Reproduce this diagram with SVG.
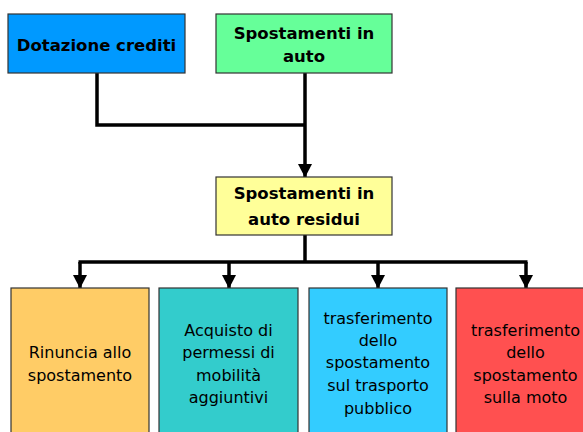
<svg xmlns="http://www.w3.org/2000/svg" width="583" height="432" viewBox="0 0 583 432">
<defs>
<marker id="ah" markerUnits="userSpaceOnUse" markerWidth="14" markerHeight="15" refX="13" refY="7.5" orient="auto" viewBox="0 0 14 15">
<path d="M0,0.5 L13.5,7.5 L0,14.5 Z" fill="#000"/>
</marker>
</defs>
<style>
.box{stroke:#333;stroke-width:1.2}
.b{font-family:"DejaVu Sans",Verdana,sans-serif;font-weight:bold;font-size:16.5px;fill:#000;text-anchor:middle}
.r{font-family:"DejaVu Sans",Verdana,sans-serif;font-size:16px;fill:#000;text-anchor:middle}
.c{fill:none;stroke:#000;stroke-width:3.5}
</style>
<rect width="583" height="432" fill="#fff"/>
<g id="connectors">
<polyline class="c" points="97,73 97,125 305,125"/>
<line class="c" x1="305" y1="73" x2="305" y2="177" marker-end="url(#ah)"/>
<line class="c" x1="305" y1="235" x2="305" y2="262"/>
<line class="c" x1="78.5" y1="262" x2="527.5" y2="262"/>
<line class="c" x1="80" y1="262" x2="80" y2="288" marker-end="url(#ah)"/>
<line class="c" x1="229" y1="262" x2="229" y2="288" marker-end="url(#ah)"/>
<line class="c" x1="378" y1="262" x2="378" y2="288" marker-end="url(#ah)"/>
<line class="c" x1="526" y1="262" x2="526" y2="288" marker-end="url(#ah)"/>
</g>
<g id="dotazione">
<rect class="box" x="8" y="14" width="177" height="59" fill="#0099ff"/>
<text class="b" x="96.5" y="51">Dotazione crediti</text>
</g>
<g id="spostamenti-auto">
<rect class="box" x="216" y="14" width="176" height="59" fill="#66ff99"/>
<text class="b" x="304" y="39">Spostamenti in</text>
<text class="b" x="304" y="62">auto</text>
</g>
<g id="spostamenti-residui">
<rect class="box" x="216" y="177" width="176" height="58" fill="#ffff99"/>
<text class="b" x="304" y="199">Spostamenti in</text>
<text class="b" x="304" y="225">auto residui</text>
</g>
<g id="rinuncia">
<rect class="box" x="11" y="288" width="138" height="160" fill="#ffcc66"/>
<text class="r" x="80" y="358">Rinuncia allo</text>
<text class="r" x="80" y="381">spostamento</text>
</g>
<g id="acquisto">
<rect class="box" x="159" y="288" width="139" height="160" fill="#33cccc"/>
<text class="r" x="228.5" y="336">Acquisto di</text>
<text class="r" x="228.5" y="358">permessi di</text>
<text class="r" x="228.5" y="381">mobilità</text>
<text class="r" x="228.5" y="403">aggiuntivi</text>
</g>
<g id="trasporto-pubblico">
<rect class="box" x="309" y="288" width="138" height="160" fill="#33ccff"/>
<text class="r" x="378" y="324">trasferimento</text>
<text class="r" x="378" y="346">dello</text>
<text class="r" x="378" y="368">spostamento</text>
<text class="r" x="378" y="391">sul trasporto</text>
<text class="r" x="378" y="414">pubblico</text>
</g>
<g id="moto">
<rect class="box" x="456" y="288" width="139" height="160" fill="#ff5050"/>
<text class="r" x="525.5" y="336">trasferimento</text>
<text class="r" x="525.5" y="358">dello</text>
<text class="r" x="525.5" y="381">spostamento</text>
<text class="r" x="525.5" y="403">sulla moto</text>
</g>
</svg>
